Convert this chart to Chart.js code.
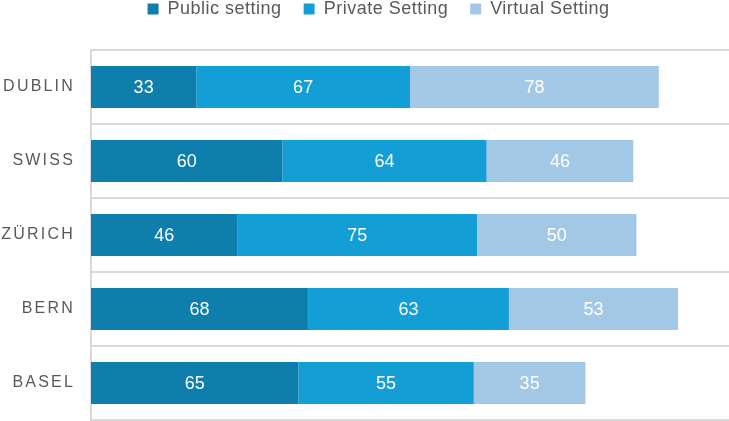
<!DOCTYPE html>
<html>
<head>
<meta charset="utf-8">
<script src="https://cdn.jsdelivr.net/npm/chart.js@4"></script>
<style>
  html, body { margin: 0; padding: 0; background: #fff; overflow: hidden; }
  canvas { display: block; }
</style>
</head>
<body>
<canvas id="chart" width="729" height="421"></canvas>
<script>
// ── DATA ─────────────────────────────────────────────
const CITIES = ['DUBLIN', 'SWISS', 'ZÜRICH', 'BERN', 'BASEL'];
const PUBLIC_SETTING = [33, 60, 46, 68, 65];
const PRIVATE_SETTING = [67, 64, 75, 63, 55];
const VIRTUAL_SETTING = [78, 46, 50, 53, 35];

const X_MAX = 200;
const GRID = '#d9d9d9';
const TEXT = '#595959';

// legend text slightly spaced, y labels widely letter-spaced
const textSpacing = {
  id: 'textSpacing',
  beforeLayout(chart) { chart.ctx.letterSpacing = '0.5px'; },
  afterLayout(chart) { chart.ctx.letterSpacing = '0px'; },
  beforeDraw(chart) { chart.ctx.letterSpacing = '0.5px'; },
  beforeDatasetsDraw(chart) { chart.ctx.letterSpacing = '0px'; },
  afterDatasetsDraw(chart) {
    // values in the middle of every segment
    const ctx = chart.ctx;
    ctx.save();
    ctx.fillStyle = '#fff';
    ctx.font = '18px "Liberation Sans", Arial, sans-serif';
    ctx.textAlign = 'center';
    ctx.textBaseline = 'middle';
    chart.data.datasets.forEach((ds, i) => {
      chart.getDatasetMeta(i).data.forEach((bar, j) => {
        const p = bar.getProps(['x', 'y', 'base'], true);
        ctx.fillText(ds.data[j], (p.x + p.base) / 2, p.y + 1);
      });
    });
    ctx.restore();
    ctx.letterSpacing = '2.2px';   // y tick labels are drawn after this (ticks.z = 1)
  },
  afterDraw(chart) { chart.ctx.letterSpacing = '0px'; }
};

new Chart(document.getElementById('chart'), {
  type: 'bar',
  data: {
    labels: CITIES,
    datasets: [
      { label: 'Public setting', data: PUBLIC_SETTING, backgroundColor: '#0e7fad' },
      { label: 'Private Setting', data: PRIVATE_SETTING, backgroundColor: '#139fd6' },
      { label: 'Virtual Setting', data: VIRTUAL_SETTING, backgroundColor: '#a2c8e6' }
    ]
  },
  options: {
    indexAxis: 'y',
    responsive: false,
    animation: false,
    datasets: { bar: { categoryPercentage: 1, barPercentage: 0.57 } },
    // negative right padding only nudges the legend right; plot stays at the edge
    layout: { padding: { top: -22, right: -28, bottom: 1, left: 0 } },
    plugins: {
      legend: {
        position: 'top',
        labels: {
          boxWidth: 11, boxHeight: 11, padding: 22, color: TEXT,
          font: { family: '"Liberation Sans", Arial, sans-serif', size: 18 }
        }
      },
      // empty title used as a spacer between legend and plot
      title: {
        display: true, text: ' ', weight: 500,
        font: { size: 10 }, padding: { top: 10, bottom: 0 }
      },
      tooltip: { enabled: false }
    },
    scales: {
      x: {
        stacked: true, min: 0, max: X_MAX,
        display: false
      },
      y: {
        stacked: true,
        // invisible tick marks keep the labels off the axis line
        grid: { color: GRID, lineWidth: 2, drawTicks: true, tickLength: 16, tickColor: 'rgba(0,0,0,0)', offset: true },
        border: { color: GRID, width: 2 },
        ticks: {
          z: 1, padding: 0, color: TEXT,
          font: { family: '"Liberation Sans", Arial, sans-serif', size: 16, lineHeight: 0.1 }
        },
        afterFit(scale) { scale.width = 91; }
      }
    }
  },
  plugins: [textSpacing]
});
</script>
</body>
</html>
